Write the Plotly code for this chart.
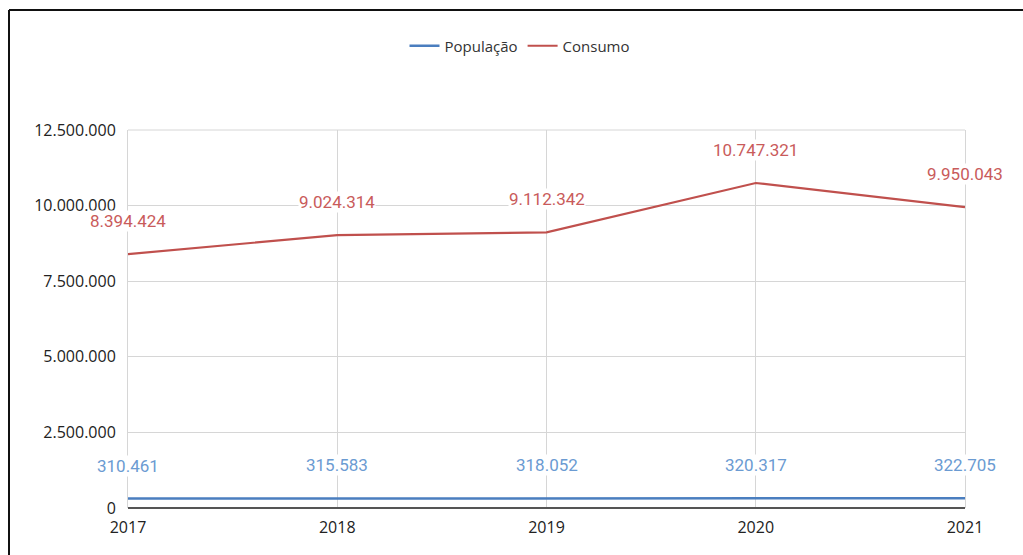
import plotly.graph_objects as go

anos = ["2017", "2018", "2019", "2020", "2021"]
populacao = [310461, 315583, 318052, 320317, 322705]
consumo = [8394424, 9024314, 9112342, 10747321, 9950043]
y_ticks = [0, 2500000, 5000000, 7500000, 10000000, 12500000]

COR_POP = "#4a7ebf"
COR_POP_TXT = "#6b9bd2"
COR_CONS = "#c0504d"
COR_CONS_TXT = "#c95b5b"
COR_GRADE = "#d6d6d6"


def fmt_br(v):
    return f"{v:,}".replace(",", ".")


W, H = 1023, 555
ML, MR, MT, MB = 128, 58, 130, 47

fig = go.Figure()
fig.add_trace(go.Scatter(x=anos, y=populacao, mode="lines", name="População",
                         line=dict(color=COR_POP, width=2.5)))
fig.add_trace(go.Scatter(x=anos, y=consumo, mode="lines", name="Consumo",
                         line=dict(color=COR_CONS, width=2.2)))

# rótulos de valor acima de cada ponto (eixo categórico: posição pelo índice)
annotations = []
for serie, cor in ((populacao, COR_POP_TXT), (consumo, COR_CONS_TXT)):
    for i, v in enumerate(serie):
        annotations.append(dict(x=i, y=v, xref="x", yref="y", text=fmt_br(v),
                                showarrow=False, yshift=33, bgcolor="white",
                                borderpad=0,
                                font=dict(family="Roboto, sans-serif",
                                          size=17, color=cor)))

# moldura superior e esquerda da imagem + linha de grade do topo
pw, ph = W - ML - MR, H - MT - MB
px = lambda v: (v - ML) / pw
py = lambda v: (H - MB - v) / ph
shapes = [
    dict(type="line", xref="paper", yref="paper", x0=0, x1=1, y0=1, y1=1,
         line=dict(color=COR_GRADE, width=1), layer="below"),
    dict(type="line", xref="paper", yref="paper", x0=px(9), x1=px(1030),
         y0=py(10), y1=py(10), line=dict(color="#111", width=2)),
    dict(type="line", xref="paper", yref="paper", x0=px(9), x1=px(9),
         y0=py(10), y1=py(560), line=dict(color="#111", width=2)),
]

fig.update_layout(
    width=W, height=H,
    margin=dict(l=ML, r=MR, t=MT, b=MB),
    paper_bgcolor="white", plot_bgcolor="white",
    font=dict(family="Open Sans, sans-serif", size=15, color="#222"),
    showlegend=True,
    legend=dict(orientation="h", x=px(520), xanchor="center", y=py(46),
                yanchor="middle", font=dict(size=15, color="#333"),
                itemwidth=30),
    xaxis=dict(type="category", showgrid=True, gridcolor=COR_GRADE,
               gridwidth=1, showline=False, zeroline=False, ticks="",
               range=[0, 4], ticklabelstandoff=8,
               tickfont=dict(size=16, color="#222")),
    yaxis=dict(range=[0, 12500000], tickvals=y_ticks,
               ticktext=[fmt_br(v) for v in y_ticks], showgrid=True,
               gridcolor=COR_GRADE, gridwidth=1, zeroline=True,
               zerolinecolor="#555", zerolinewidth=2,
               showline=True, mirror=True, linecolor=COR_GRADE, linewidth=1,
               ticks="", ticklabelstandoff=8,
               tickfont=dict(size=16, color="#222")),
    annotations=annotations,
    shapes=shapes,
)

fig.write_html("out.html")
